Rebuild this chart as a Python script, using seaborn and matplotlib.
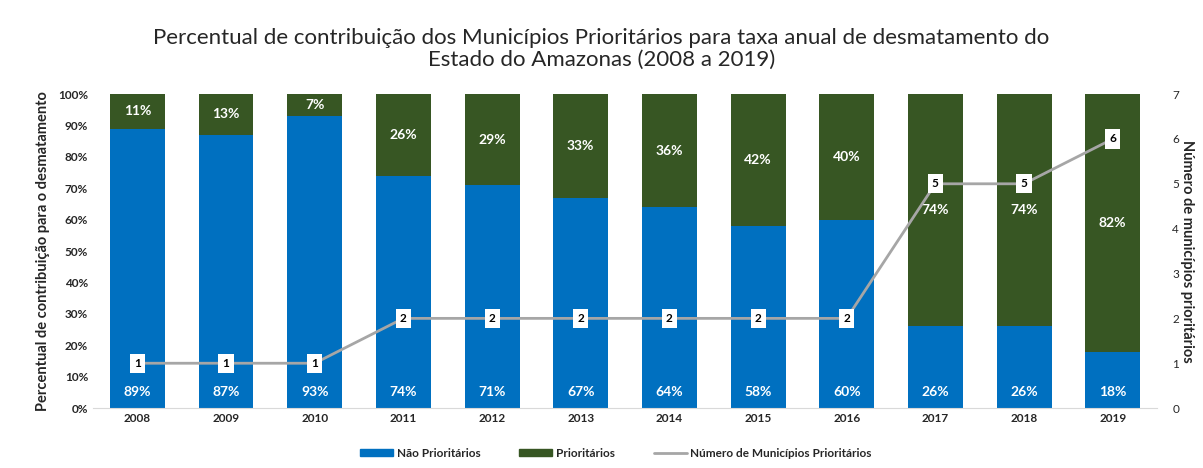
import numpy as np
import pandas as pd
import matplotlib
matplotlib.use("Agg")
import matplotlib.pyplot as plt
import seaborn as sns
from matplotlib.patches import Patch
from matplotlib.lines import Line2D

# data
anos = ["2008", "2009", "2010", "2011", "2012", "2013", "2014", "2015", "2016", "2017", "2018", "2019"]
nao_prioritarios = [89, 87, 93, 74, 71, 67, 64, 58, 60, 26, 26, 18]
prioritarios = [11, 13, 7, 26, 29, 33, 36, 42, 40, 74, 74, 82]
num_municipios = [1, 1, 1, 2, 2, 2, 2, 2, 2, 5, 5, 6]

df = pd.DataFrame({
    "Ano": anos,
    "Nao": nao_prioritarios,
    "Prio": prioritarios,
    "Total": np.array(nao_prioritarios) + np.array(prioritarios),
    "Num": num_municipios,
})

AZUL = "#0070C0"
VERDE = "#375623"
CINZA = "#A6A6A6"

sns.set_style("white")
plt.rcParams["font.family"] = ["Lato", "DejaVu Sans"]

fig = plt.figure(figsize=(12.03, 4.68), dpi=100)
ax = fig.add_axes([0.0773, 0.128, 0.8845, 0.671])

# stacked bars: full height in green, blue part drawn over it
sns.barplot(data=df, x="Ano", y="Total", color=VERDE, width=0.62, saturation=1, linewidth=0, ax=ax)
sns.barplot(data=df, x="Ano", y="Nao", color=AZUL, width=0.62, saturation=1, linewidth=0, ax=ax)

ax.set_ylim(0, 100)
ax.set_xlim(-0.5, len(anos) - 0.5)
ax.set_yticks(range(0, 101, 10))
ax.set_yticklabels([f"{v}%" for v in range(0, 101, 10)])
ax.set_xlabel("")
ax.set_ylabel("Percentual de contribuição para o desmatamento", fontsize=10.5, fontweight="bold",
              labelpad=6)
ax.tick_params(axis="both", labelsize=8.5, length=0)
for lbl in ax.get_xticklabels() + ax.get_yticklabels():
    lbl.set_fontweight("bold")
for s in ["top", "right", "left"]:
    ax.spines[s].set_visible(False)
ax.spines["bottom"].set_color("#D9D9D9")

# percent labels
for i, (n, p) in enumerate(zip(nao_prioritarios, prioritarios)):
    ax.text(i, 5, f"{n}%", ha="center", va="center", color="white", fontsize=10, fontweight="bold")
    ax.text(i, n + p / 2, f"{p}%", ha="center", va="center", color="white", fontsize=10, fontweight="bold")

# number of priority municipalities on secondary axis
ax2 = ax.twinx()
sns.lineplot(x=list(range(len(anos))), y=num_municipios, color=CINZA, linewidth=2, ax=ax2)
ax2.set_ylim(0, 7)
ax2.set_yticks(range(0, 8))
ax2.tick_params(axis="y", labelsize=8.5, length=0, pad=11)
ax2.set_ylabel("Número de municípios prioritários", fontsize=10.5, fontweight="bold",
               rotation=270, labelpad=11)
for s in ["top", "right", "left", "bottom"]:
    ax2.spines[s].set_visible(False)
for i, v in enumerate(num_municipios):
    ax2.text(i, v, str(v), ha="center", va="center", color="black", fontsize=8.5, fontweight="bold",
             bbox=dict(boxstyle="square,pad=0.35", fc="white", ec="none"))

fig.suptitle("Percentual de contribuição dos Municípios Prioritários para taxa anual de desmatamento do\n"
             "Estado do Amazonas (2008 a 2019)", y=0.94, fontsize=16, color="#262626",
             linespacing=1.1)

handles = [
    Patch(color=AZUL, label="Não Prioritários"),
    Patch(color=VERDE, label="Prioritários"),
    Line2D([0], [0], color=CINZA, linewidth=2, label="Número de Municípios Prioritários"),
]
leg = fig.legend(handles=handles, loc="center", bbox_to_anchor=(0.512, 0.032), ncol=3, frameon=False,
                 fontsize=8.5, handlelength=2.8, handleheight=0.6, handletextpad=0.3, columnspacing=3.3)
for t in leg.get_texts():
    t.set_fontweight("bold")

fig.savefig("out.png", dpi=100)
